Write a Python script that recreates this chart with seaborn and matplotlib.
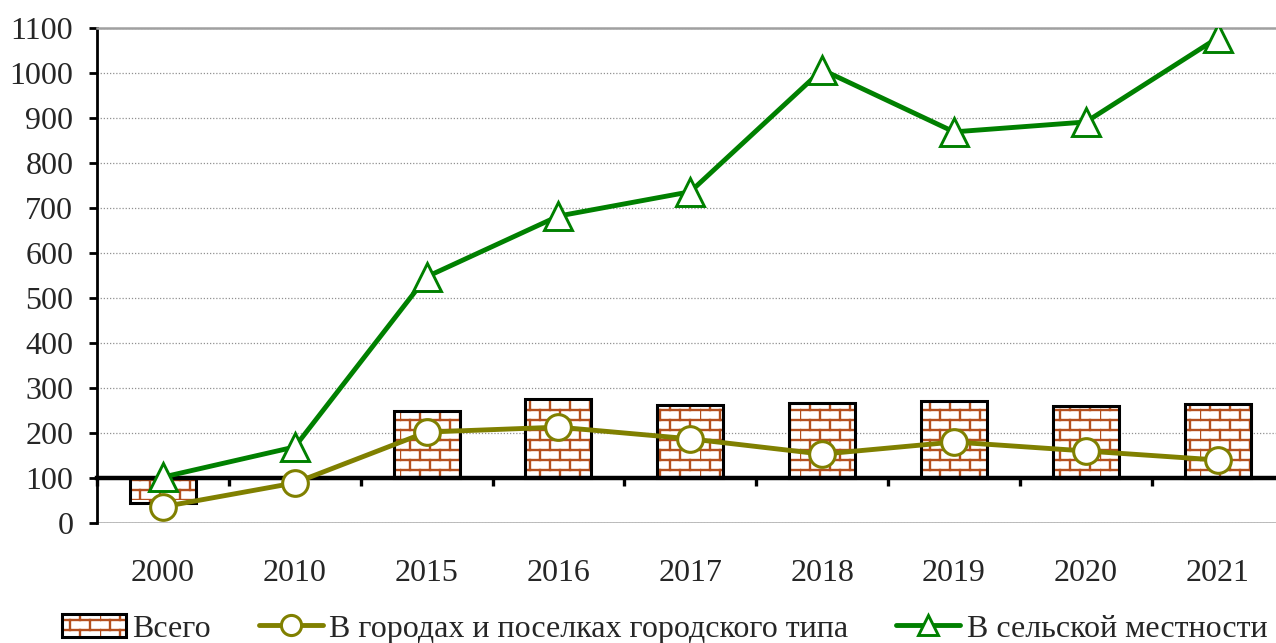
import numpy as np
import matplotlib
matplotlib.use('Agg')
import matplotlib.pyplot as plt
import seaborn as sns
from matplotlib import hatch as mhatch
from matplotlib.path import Path
from matplotlib.patches import Patch
from matplotlib.lines import Line2D
from matplotlib.legend_handler import HandlerTuple

years = ['2000', '2010', '2015', '2016', '2017', '2018', '2019', '2020', '2021']
total = [45, 100, 249, 276, 262, 266, 270, 260, 264]
urban = [36, 89, 202, 213, 187, 153, 180, 160, 140]
rural = [102, 169, 547, 682, 736, 1007, 869, 891, 1078]
labels = ['Всего', 'В городах и поселках городского типа', 'В сельской местности']

brick = '#b4501e'
olive = '#808000'
green = '#008000'


# brick hatch: matplotlib has no such pattern, so register one
class BrickHatch(mhatch.HatchPatternBase):
    rows = 10
    cols = 5

    def __init__(self, hatch, density):
        n = 1 if '+' in hatch else 0
        self.num_vertices = n * (self.rows + self.rows * self.cols) * 2

    def set_vertices_and_codes(self, vertices, codes):
        segs = []
        for i in range(self.rows):
            y = i / self.rows
            segs.append(((0, y), (1, y)))
            shift = 0.5 / self.cols if i % 2 else 0
            for j in range(self.cols):
                x = j / self.cols + shift
                segs.append(((x, y), (x, y + 1 / self.rows)))
        vertices[:] = np.array(segs).reshape(-1, 2)
        codes[0::2] = Path.MOVETO
        codes[1::2] = Path.LINETO


mhatch._hatch_types = [BrickHatch]

sns.set_style('white')
plt.rcParams['font.family'] = ['Liberation Serif', 'DejaVu Serif']
plt.rcParams['hatch.linewidth'] = 1.7
fs = 23

fig = plt.figure(figsize=(12.76, 6.43), dpi=100)
ax = fig.add_axes([0.076, 0.1866, 0.93, 0.77])

pos = np.arange(len(years))
base = 100
ax.bar(pos, np.array(total) - base, bottom=base, width=0.5, color='white',
       edgecolor=brick, linewidth=0, hatch='+', zorder=2)
ax.bar(pos, np.array(total) - base, bottom=base, width=0.5, fill=False,
       edgecolor='black', linewidth=2.2, zorder=2.2)

mk_urb = dict(marker='o', markerfacecolor='white', markeredgecolor=olive,
              markeredgewidth=2.2)
mk_rur = dict(marker='^', markerfacecolor='white', markeredgecolor=green,
              markeredgewidth=2.1)

sns.lineplot(x=pos, y=urban, ax=ax, color=olive, linewidth=3.5, zorder=4,
             markersize=18.5, **mk_urb)
sns.lineplot(x=pos, y=rural, ax=ax, color=green, linewidth=3.5, zorder=5,
             markersize=19.5, **mk_rur)

ax.set_xlim(-0.5, len(years) - 0.5)
ax.set_ylim(0, 1100)
ax.set_yticks(np.arange(0, 1101, 100))
ax.set_xticks(pos)
ax.set_xticklabels(years)
ax.set_xticks(np.append(pos - 0.5, len(years) - 0.5), minor=True)

ax.grid(axis='y', linestyle=(0, (1, 1.5)), color='#909090', linewidth=0.9)
ax.set_axisbelow(True)
ax.axhline(0, color='#a8a8a8', linewidth=1.8, zorder=1.5)

ax.spines['bottom'].set_position(('data', base))
ax.spines['bottom'].set_linewidth(3.2)
ax.spines['bottom'].set_color('black')
ax.spines['bottom'].set_zorder(3)
ax.spines['left'].set_linewidth(2)
ax.spines['left'].set_color('black')
ax.spines['top'].set_color('#a0a0a0')
ax.spines['top'].set_linewidth(1.8)
ax.spines['right'].set_visible(False)

ax.tick_params(axis='y', which='major', direction='out', length=6, width=2,
               color='black', left=True, pad=11, labelsize=fs)
ax.tick_params(axis='x', which='major', length=0, pad=58, labelsize=fs)
ax.tick_params(axis='x', which='minor', direction='out', length=6, width=2.4,
               color='black', bottom=True)
ax.set_xlabel('')
ax.set_ylabel('')

h_bar = (Patch(facecolor='white', edgecolor=brick, linewidth=0, hatch='+'),
         Patch(fill=False, edgecolor='black', linewidth=2.2))
h_urb = Line2D([], [], color=olive, linewidth=3.5, markersize=14.5, **mk_urb)
h_rur = Line2D([], [], color=green, linewidth=3.5, markersize=15, **mk_rur)
fig.legend([h_bar, h_urb, h_rur], labels, loc='center',
           bbox_to_anchor=(0.521, 0.022), ncol=3, frameon=False, fontsize=fs,
           handlelength=2.0, handletextpad=0.2, columnspacing=1.5,
           handler_map={tuple: HandlerTuple(ndivide=1)})

plt.savefig('out.png', dpi=100)
